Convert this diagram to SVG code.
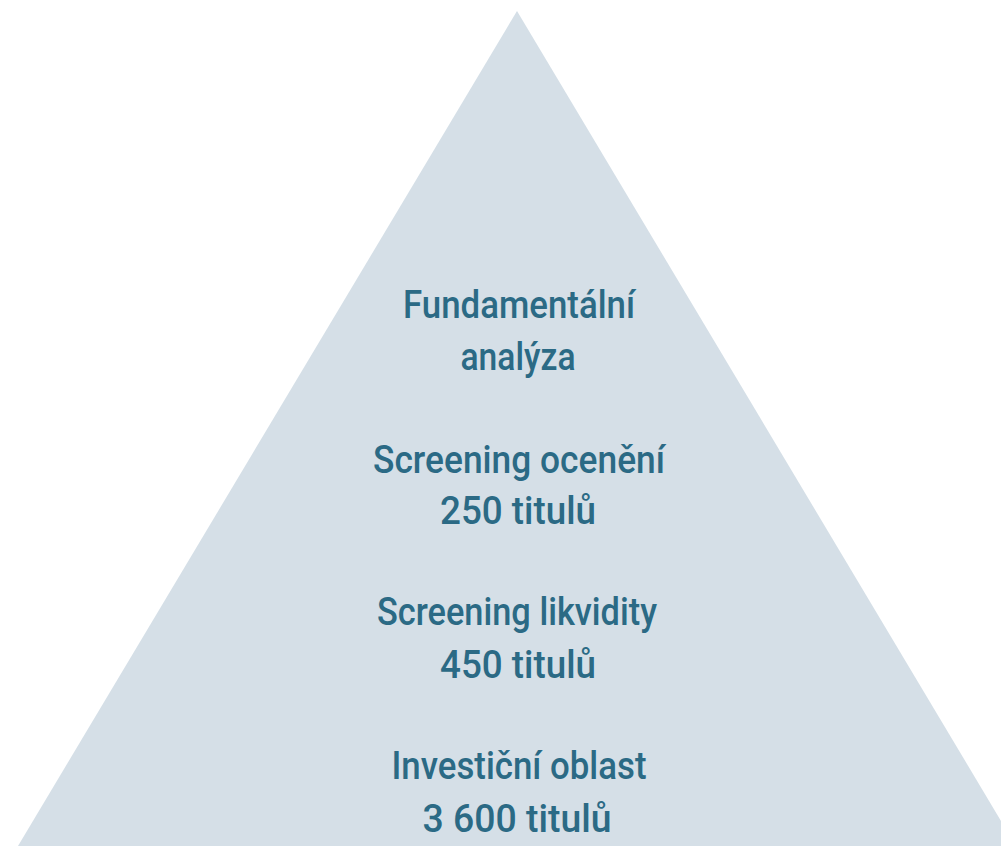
<svg xmlns="http://www.w3.org/2000/svg" width="1001" height="846" viewBox="0 0 1001 846">
<style>
.t{font-family:Roboto,"Liberation Sans",sans-serif;font-size:38px;font-weight:500;fill:#2b6a85;text-anchor:middle}
</style>
<rect width="1001" height="846" fill="#ffffff"/>
<g id="pyramid">
<polygon points="517,11 1016,846 18,846" fill="#d5dfe7"/>
</g>
<g id="level-fundamental">
<text class="t" x="519" y="318" textLength="232" lengthAdjust="spacingAndGlyphs">Fundamentální</text>
<text class="t" x="518" y="370" textLength="115" lengthAdjust="spacingAndGlyphs">analýza</text>
</g>
<g id="level-valuation">
<text class="t" x="519" y="473" textLength="292" lengthAdjust="spacingAndGlyphs">Screening ocenění</text>
<text class="t" x="518" y="524" textLength="156" lengthAdjust="spacingAndGlyphs">250 titulů</text>
</g>
<g id="level-liquidity">
<text class="t" x="517" y="625" textLength="280" lengthAdjust="spacingAndGlyphs">Screening likvidity</text>
<text class="t" x="518" y="678" textLength="156" lengthAdjust="spacingAndGlyphs">450 titulů</text>
</g>
<g id="level-universe">
<text class="t" x="519" y="779" textLength="255" lengthAdjust="spacingAndGlyphs">Investiční oblast</text>
<text class="t" x="517" y="832" textLength="189" lengthAdjust="spacingAndGlyphs">3 600 titulů</text>
</g>
<g id="connectors"></g>
</svg>
